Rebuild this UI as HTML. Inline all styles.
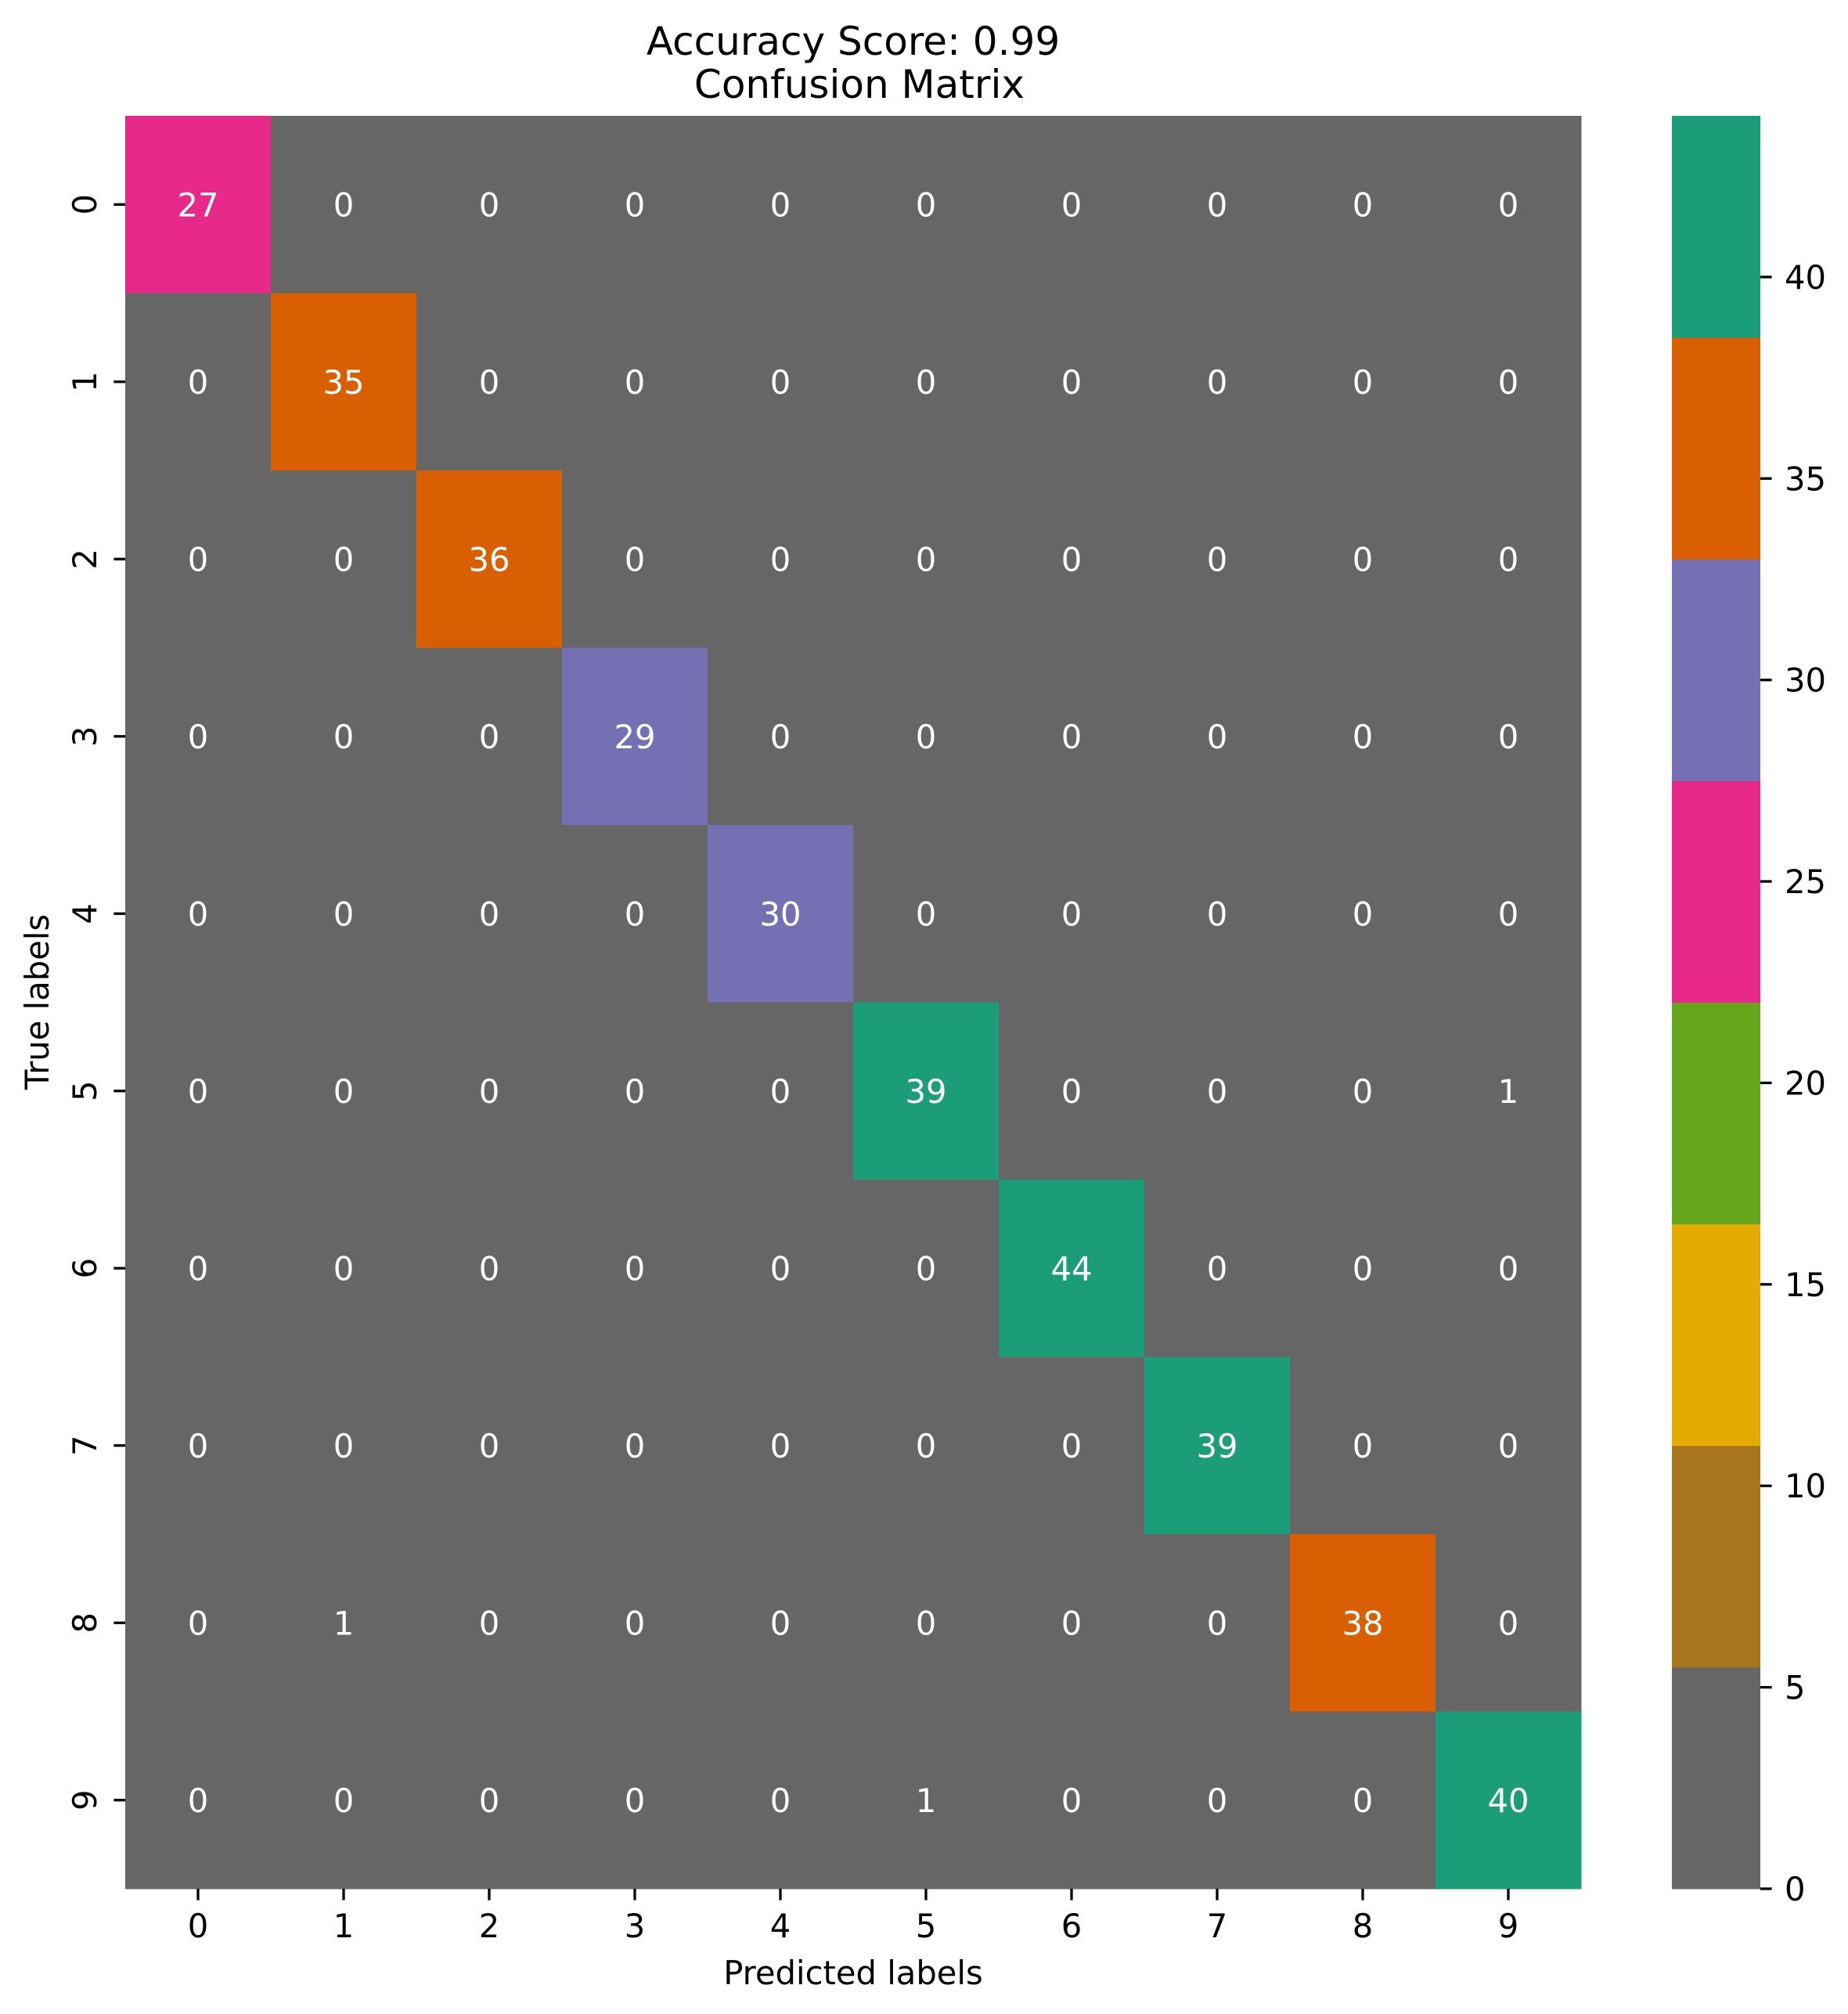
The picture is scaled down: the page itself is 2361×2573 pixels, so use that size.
<!DOCTYPE html>
<html><head><meta charset="utf-8"><style>
html,body{margin:0;padding:0;background:#fff;}
svg{display:block;font-family:"DejaVu Sans","Liberation Sans",sans-serif;}
</style></head><body>
<svg id="chart" width="2361" height="2573" viewBox="0 0 2361 2573" xmlns="http://www.w3.org/2000/svg">
<text x="1090" y="70" font-size="50" text-anchor="middle">Accuracy Score: 0.99</text>
<text x="1090" y="125" font-size="50" text-anchor="middle" xml:space="preserve"> Confusion Matrix</text>
<text x="1090" y="2535" font-size="41.7" text-anchor="middle">Predicted labels</text>
<text transform="translate(62,1280) rotate(-90)" font-size="41.7" text-anchor="middle">True labels</text>
<g id="cells"></g><g id="annots"></g><g id="axes"></g><g id="cbar"></g>
</svg>
<script>
const labels = ["0","1","2","3","4","5","6","7","8","9"];
const matrix = [
[27,0,0,0,0,0,0,0,0,0],
[0,35,0,0,0,0,0,0,0,0],
[0,0,36,0,0,0,0,0,0,0],
[0,0,0,29,0,0,0,0,0,0],
[0,0,0,0,30,0,0,0,0,0],
[0,0,0,0,0,39,0,0,0,1],
[0,0,0,0,0,0,44,0,0,0],
[0,0,0,0,0,0,0,39,0,0],
[0,1,0,0,0,0,0,0,38,0],
[0,0,0,0,0,1,0,0,0,40]
];
const cbarTicks = [0,5,10,15,20,25,30,35,40];
const palette = ["#666666","#a6761d","#e6ab02","#66a61e","#e7298a","#7570b3","#d95f02","#1b9e77"];
const vmin = 0, vmax = 44;

const NS="http://www.w3.org/2000/svg";
const L=160,R=2020,T=148,B=2413;
const cw=(R-L)/labels.length, ch=(B-T)/labels.length;
const xPos=i=>L+i*cw, yPos=i=>T+i*ch;
function colorFor(v){let k=Math.floor((v-vmin)/(vmax-vmin)*palette.length);if(k>=palette.length)k=palette.length-1;if(k<0)k=0;return palette[k];}
function mk(tag,attrs,parent){const e=document.createElementNS(NS,tag);for(const k in attrs)e.setAttribute(k,attrs[k]);parent.appendChild(e);return e;}
const cells=document.getElementById('cells'),annots=document.getElementById('annots'),axes=document.getElementById('axes'),cbar=document.getElementById('cbar');
matrix.forEach((row,r)=>row.forEach((v,c)=>{
  const rc=mk('rect',{x:xPos(c),y:yPos(r),width:cw+0.5,height:ch+0.5,fill:colorFor(v)},cells);
  
  
  const t=mk('text',{x:xPos(c)+cw/2,y:yPos(r)+ch/2+15,'font-size':41.7,fill:'#fff','text-anchor':'middle'},annots);
  t.textContent=v;
  
  
}));
labels.forEach((lab,i)=>{
  const cx=xPos(i)+cw/2;
  const tk=mk('line',{x1:cx,y1:B,x2:cx,y2:B+14.6,stroke:'#000','stroke-width':3.3},axes);
  
  
  const tx=mk('text',{x:cx,y:2475,'font-size':41.7,'text-anchor':'middle'},axes);
  tx.textContent=lab;
  
  
  const cy=yPos(i)+ch/2;
  const tk2=mk('line',{x1:L-14.6,y1:cy,x2:L,y2:cy,stroke:'#000','stroke-width':3.3},axes);
  
  
  const ty=mk('text',{transform:'translate(123,'+cy+') rotate(-90)','font-size':41.7,'text-anchor':'middle'},axes);
  ty.textContent=lab;
  
  
});
const CL=2136,CR=2249;
const cy=v=>B-(v-vmin)/(vmax-vmin)*(B-T);
palette.forEach((col,k)=>{
  const v0=vmin+k*(vmax-vmin)/palette.length, v1=vmin+(k+1)*(vmax-vmin)/palette.length;
  const b=mk('rect',{x:CL,y:cy(v1),width:CR-CL,height:cy(v0)-cy(v1)+0.5,fill:col},cbar);
  
  
});
cbarTicks.forEach(v=>{
  const y=cy(v);
  const tk=mk('line',{x1:CR,y1:y,x2:CR+14.6,y2:y,stroke:'#000','stroke-width':3.3},cbar);
  
  
  const t=mk('text',{x:2280,y:y+15,'font-size':41.7},cbar);
  t.textContent=v;
  
  
});
</script>
</body></html>
